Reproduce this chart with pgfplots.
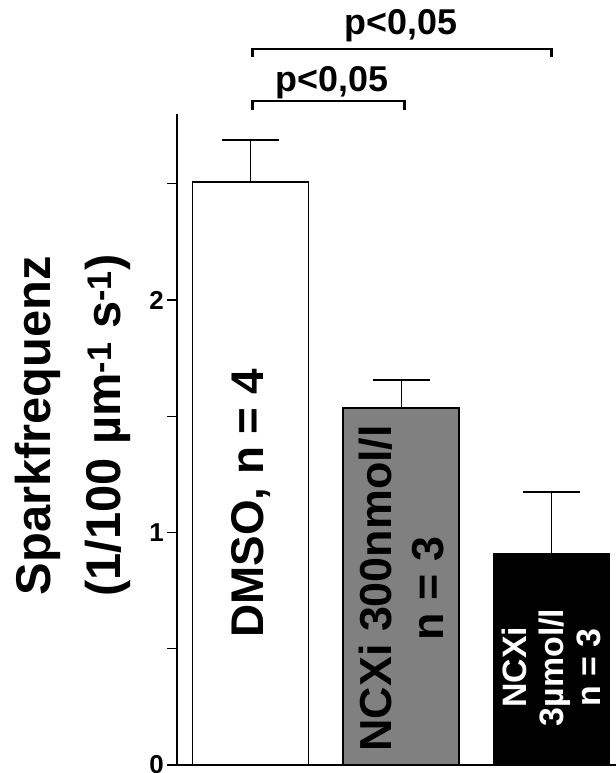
\documentclass[border=0pt]{standalone}
\usepackage{fontspec}
\setmainfont{Liberation Sans}
\usepackage{pgfplots}
\pgfplotsset{compat=1.18}
\definecolor{bargray}{HTML}{808080}
\begin{document}
\begin{tikzpicture}
\begin{axis}[
  at={(0,0)}, anchor=south west,
  scale only axis, width=439bp, height=651bp,
  xmin=-0.49, xmax=2.427, ymin=0, ymax=2.8,
  axis x line=bottom, axis y line=left,
  x axis line style={-, line width=1.3bp},
  y axis line style={-, line width=2.7bp},
  xtick=\empty,
  ytick={0,1,2}, minor ytick={0.5,1.5,2.5},
  tick align=outside, major tick length=10bp, minor tick length=10bp,
  tick style={line width=1.3bp, black},
  yticklabel={\fontsize{26}{30}\selectfont\bfseries\pgfmathprintnumber[assume math mode=true]{\tick}},
  yticklabel style={inner xsep=3bp},
  clip=false,
  enlargelimits=false,
]
\addplot[ybar, bar width=116bp, bar shift=0pt, fill=white, draw=black, line width=1.5bp,
  error bars/.cd, y dir=plus, y explicit,
  error bar style={line width=1.3bp, black},
  error mark options={rotate=90, mark size=28.5bp, line width=1.3bp, black}]
  coordinates {(0,2.508) +- (0,0.18)};
\addplot[ybar, bar width=116bp, bar shift=0pt, fill=bargray, draw=black, line width=1.5bp,
  error bars/.cd, y dir=plus, y explicit,
  error bar style={line width=1.3bp, black},
  error mark options={rotate=90, mark size=28.5bp, line width=1.3bp, black}]
  coordinates {(1,1.535) +- (0,0.121)};
\addplot[ybar, bar width=116bp, bar shift=0pt, fill=black, draw=black, line width=1.5bp,
  error bars/.cd, y dir=plus, y explicit,
  error bar style={line width=1.3bp, black},
  error mark options={rotate=90, mark size=28.5bp, line width=1.3bp, black}]
  coordinates {(2,0.908) +- (0,0.266)};
% significance brackets
\addplot[sharp plot, mark=none, black, line width=2.7bp]
  coordinates {(0.01,2.817) (0.01,2.856) (1.02,2.856) (1.02,2.817)};
\addplot[sharp plot, mark=none, black, line width=2.7bp]
  coordinates {(0.01,3.045) (0.01,3.08) (2.0,3.08) (2.0,3.045)};
\node[anchor=base, font=\bfseries\fontsize{36}{42}\selectfont] at (axis cs:0.54,2.895) {p<0,05};
\node[anchor=base, font=\bfseries\fontsize{36}{42}\selectfont] at (axis cs:1.0,3.14) {p<0,05};
% bar labels
\node[rotate=90, font=\bfseries\fontsize{46}{54}\selectfont] at (axis cs:0,1.125) {DMSO, n = 4};
\node[rotate=90, align=center, font=\bfseries\fontsize{45}{52}\selectfont] at (axis cs:1,0.76) {NCXi 300nmol/l\\n = 3};
\node[rotate=90, align=center, text=white, font=\bfseries\fontsize{34}{37}\selectfont] at (axis cs:2,0.42) {NCXi\\3µmol/l\\n = 3};
% y label
\node[rotate=90, align=center, font=\bfseries\fontsize{49}{70}\selectfont] at ([xshift=-104bp]axis cs:-0.49,1.46) {Sparkfrequenz\\(1/100 µm\textsuperscript{-1} s\textsuperscript{-1})};
\end{axis}
\pgfresetboundingbox
\path[use as bounding box] (-177bp,-8bp) rectangle (439bp,765bp);
\end{tikzpicture}
\end{document}
